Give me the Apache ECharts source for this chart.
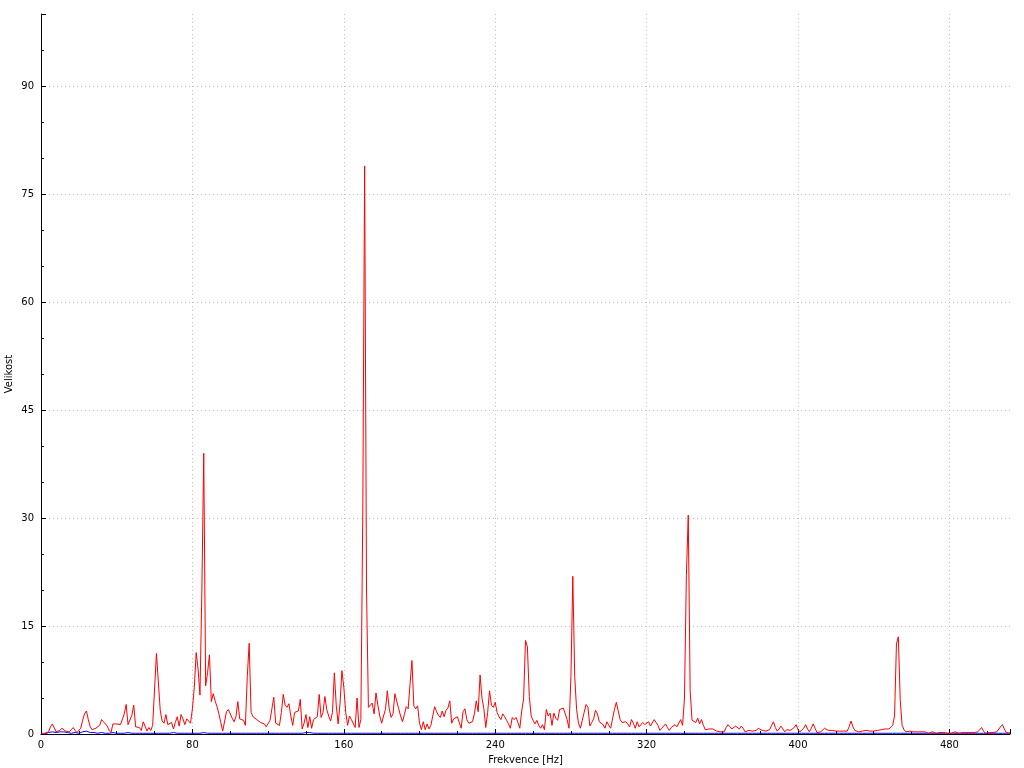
<!DOCTYPE html>
<html>
<head>
<meta charset="utf-8">
<script src="https://cdn.jsdelivr.net/npm/echarts@6/dist/echarts.min.js"></script>
<style>html,body{margin:0;padding:0;background:#fff}#c{width:1024px;height:768px}</style>
</head>
<body>
<div id="c"></div>
<script>
// Frequency step (Hz) of samples; frequencies are index * step
const freqStep = 1;
const xTicks = [0, 80, 160, 240, 320, 400, 480];
const yTicks = [0, 15, 30, 45, 60, 75, 90];
const xTitle = "Frekvence [Hz]";
const yTitle = "Velikost";

// Red spectrum magnitudes, 0..512 Hz
const redValues = [
0.1,0.1,0.1,0.1,0.3,1.0,1.4,1.3,0.3,0.3,0.5,0.8,0.7,0.4,0.5,0.3,0.6,0.9,0.5,0.2,
0.4,0.8,1.9,2.8,3.2,2.0,1.0,0.6,0.5,0.8,1.0,1.2,2.0,1.7,1.4,1.1,0.5,0.2,1.4,1.5,
1.4,1.5,1.3,1.2,2.8,4.1,1.3,1.2,2.6,4.0,1.0,0.9,0.9,0.5,1.7,1.1,0.4,0.9,0.5,1.2,
1.0,11.2,11.4,3.3,1.8,1.5,2.7,1.3,1.2,1.6,0.7,1.6,2.4,1.1,2.7,2.1,1.3,2.1,1.8,1.5,
3.5,6.5,11.3,9.0,5.4,20.0,39.0,6.7,8.5,11.0,4.5,5.6,4.6,3.8,2.8,1.6,0.4,0.4,3.1,3.4,
3.3,2.2,1.7,2.4,4.5,2.1,2.2,1.9,1.2,8.0,12.6,3.0,2.4,2.3,2.0,1.8,1.6,1.5,1.4,1.0,
0.9,1.9,3.5,5.1,1.5,1.4,1.2,3.0,5.5,4.0,3.7,4.2,2.5,1.2,3.0,2.8,3.2,4.8,0.7,1.5,
2.7,0.9,2.4,0.8,2.0,2.2,2.4,5.5,2.3,3.0,5.2,3.4,2.5,1.8,3.0,8.5,4.0,1.4,4.2,8.8,
6.5,3.0,1.2,2.5,2.0,2.1,0.9,5.0,0.9,2.0,30.0,78.9,20.0,3.7,3.5,4.3,2.8,5.7,4.0,2.5,
1.5,2.5,3.4,6.0,3.5,2.3,2.8,5.6,4.5,3.5,2.5,1.7,2.7,3.8,3.5,7.0,10.2,3.9,3.5,3.9,
1.5,0.6,1.7,0.6,1.4,0.7,1.2,1.1,3.8,3.1,2.6,2.3,3.2,2.4,3.3,3.6,4.6,1.5,2.1,2.0,
2.4,1.6,0.8,3.1,3.5,2.0,1.5,1.6,1.7,2.8,4.6,3.1,8.2,5.0,3.5,0.9,3.0,6.0,4.0,3.7,
4.4,3.0,2.4,2.0,2.8,2.4,1.9,1.4,0.8,2.3,2.0,2.3,1.6,0.8,3.2,4.9,13.0,12.1,5.2,2.5,
1.9,1.4,1.9,1.2,0.8,1.3,0.6,3.4,2.5,2.9,1.2,2.9,2.2,1.9,3.4,3.2,3.6,3.7,2.0,0.8,
8.0,21.9,8.0,3.4,1.5,0.8,1.9,3.0,4.1,3.7,1.1,1.6,2.1,3.3,2.8,1.7,1.5,1.3,0.8,1.7,
1.2,0.8,1.0,3.4,4.4,3.2,2.0,1.6,1.8,1.7,1.4,1.0,2.0,1.5,0.8,1.7,1.0,0.8,1.6,1.3,
1.1,1.7,1.1,1.3,2.0,1.6,1.2,0.5,0.8,1.1,1.4,0.9,0.5,0.9,1.1,1.3,1.0,1.2,2.0,1.2,
5.0,22.0,30.4,6.0,1.9,2.0,1.6,2.2,1.4,2.0,1.2,0.6,0.8,0.7,0.6,0.7,0.7,0.4,0.3,0.3,
0.2,0.3,0.9,1.3,1.0,0.7,0.9,1.1,1.1,0.7,1.1,0.8,0.3,0.4,0.5,0.5,0.4,0.3,0.5,0.8,
0.8,0.5,0.3,0.4,0.5,0.6,1.2,1.7,0.9,0.4,0.7,1.1,0.7,0.3,0.6,0.8,0.5,0.3,0.9,1.3,
0.6,0.3,0.3,0.8,1.3,0.7,0.3,0.8,1.4,0.8,0.2,0.2,0.3,0.5,0.8,0.8,0.5,0.4,0.5,0.4,
0.4,0.3,0.4,0.3,0.4,0.5,0.4,1.0,1.8,1.0,0.5,0.4,0.3,0.5,0.4,0.4,0.5,0.6,0.4,0.3,
0.4,0.5,0.5,0.6,0.6,0.6,0.7,0.6,0.7,0.8,1.2,2.5,12.5,13.5,4.7,1.2,0.6,0.3,0.3,0.4,
0.5,0.3,0.2,0.3,0.2,0.3,0.4,0.3,0.2,0.1,0.2,0.3,0.2,0.1,0.2,0.2,0.1,0.2,0.1,0.1,
0.2,0.1,0.2,0.3,0.2,0.1,0.2,0.2,0.1,0.2,0.3,0.2,0.1,0.2,0.2,0.3,0.6,0.9,0.4,0.1,
0.1,0.2,0.1,0.2,0.2,0.3,0.5,1.0,1.3,0.7,0.2,0.1,0.1
];

// Blue series magnitudes, 0..512 Hz (near zero)
const blueValues = [
0,0,0,0,0.2,0.3,0.3,0.2,0.2,0.3,0.3,0.4,0.3,0.2,0.2,0.2,0.1,0.1,0.2,0.1,
0.1,0.2,0.3,0.5,0.4,0.3,0.2,0.2,0.2,0.1,0.1,0.2,0.2,0.1,0.1,0.1,0.1,0.1,0.2,0.1,
0.1,0.1,0.1,0.1,0.1,0.2,0.2,0.1,0.1,0.1,0.1,0.1,0.1,0.1,0.1,0.1,0.1,0.1,0.1,0.1,
0.1,0.1,0.1,0.1,0.1,0.1,0.1,0.1,0.1,0.2,0.2,0.1,0.1,0.1,0.1,0.1,0.1,0.1,0.1,0.1,
0.1,0.1,0.1,0.1,0.1,0.2,0.2,0.2,0.1,0.1,0.1,0.1,0.1,0.1,0.1,0.1,0.1,0.1,0.1,0.1,
0.1,0.1,0.1,0.1,0.1,0.1,0.1,0.1,0.1,0.1,0.1,0.1,0.1,0.1,0.1,0.1,0.1,0.1,0.1,0.1,
0.1,0.1,0.1,0.1,0.1,0.1,0.1,0.1,0.1,0.1,0.1,0.1,0.1,0.1,0.1,0.1,0.1,0.1,0.1,0.2,
0.2,0.2,0.2,0.2,0.1,0.1,0.1,0.1,0.1,0.1,0.1,0.1,0.1,0.1,0.1,0.1,0.1,0.1,0.1,0.1,
0.1,0.1,0.1,0.1,0.1,0.1,0.1,0.1,0.1,0.1,0.1,0.1,0.1,0.1,0.1,0.1,0.1,0.1,0.1,0.1,
0.1,0.1,0.1,0.1,0.1,0.1,0.1,0.1,0.1,0.1,0.1,0.1,0.1,0.1,0.1,0.1,0.1,0.1,0.1,0.1,
0.1,0.1,0.1,0.1,0.1,0.1,0.1,0.1,0.1,0.1,0.1,0.1,0.1,0.1,0.1,0.1,0.1,0.1,0.1,0.1,
0.1,0.1,0.1,0.1,0.1,0.1,0.1,0.1,0.1,0.1,0.1,0.1,0.1,0.1,0.1,0.1,0.1,0.1,0.1,0.1,
0.1,0.1,0.1,0.1,0.1,0.1,0.1,0.1,0.1,0.1,0.1,0.1,0.1,0.1,0.1,0.1,0.1,0.1,0.1,0.1,
0.1,0.1,0.1,0.1,0.1,0.1,0.1,0.1,0.1,0.1,0.1,0.1,0.1,0.1,0.1,0.1,0.1,0.1,0.1,0.1,
0.1,0.1,0.1,0.1,0.1,0.1,0.1,0.1,0.1,0.1,0.1,0.1,0.1,0.1,0.1,0.1,0.1,0.1,0.1,0.1,
0.1,0.1,0.1,0.1,0.1,0.1,0.1,0.1,0.1,0.1,0.1,0.1,0.1,0.1,0.1,0.1,0.1,0.1,0.1,0.1,
0.1,0.1,0.1,0.1,0.1,0.1,0.1,0.1,0.1,0.1,0.1,0.1,0.1,0.1,0.1,0.1,0.1,0.1,0.1,0.1,
0.1,0.1,0.1,0.1,0.1,0.1,0.1,0.1,0.1,0.1,0.1,0.1,0.1,0.1,0.1,0.1,0.1,0.1,0.1,0.1,
0.1,0.1,0.1,0.1,0.1,0.1,0.1,0.1,0.1,0.1,0.1,0.1,0.1,0.1,0.1,0.1,0.1,0.1,0.1,0.1,
0.1,0.1,0.1,0.1,0.1,0.1,0.1,0.1,0.1,0.1,0.1,0.1,0.1,0.1,0.1,0.1,0.1,0.1,0.1,0.1,
0.1,0.1,0.1,0.1,0.1,0.1,0.1,0.1,0.1,0.1,0.1,0.1,0.1,0.1,0.1,0.1,0.1,0.1,0.1,0.1,
0.1,0.1,0.1,0.1,0.1,0.1,0.1,0.1,0.1,0.1,0.1,0.1,0.1,0.1,0.1,0.1,0.1,0.1,0.1,0.1,
0.1,0.1,0.1,0.1,0.1,0.1,0.1,0.1,0.1,0.1,0.1,0.1,0.1,0.1,0.1,0.1,0.1,0.1,0.1,0.1,
0.1,0.1,0.1,0.1,0.1,0.1,0.1,0.1,0.1,0.1,0.1,0.1,0.1,0.1,0.1,0.1,0.1,0.1,0.1,0.1,
0.1,0.1,0.1,0.1,0.1,0.1,0.1,0.1,0.1,0.1,0.1,0.1,0.1,0.1,0.1,0.1,0.1,0.1,0.1,0.1,
0.1,0.1,0.1,0.1,0.1,0.1,0.1,0.1,0.1,0.1,0.1,0.1,0.1
];

const toPairs = arr => arr.map((v, i) => [i * freqStep, v]);
const font = 'DejaVu Sans';

const chart = echarts.init(document.getElementById('c'), null, {renderer: 'canvas'});
chart.setOption({
  animation: false,
  backgroundColor: '#ffffff',
  grid: {left: 41, right: 14, top: 14, bottom: 34, containLabel: false, outerBoundsMode: 'none'},
  xAxis: {
    type: 'value', min: xTicks[0], max: 512, interval: xTicks[1] - xTicks[0],
    name: xTitle, nameLocation: 'middle', nameGap: 21, nameMoveOverlap: false,
    nameTextStyle: {color: '#000', fontFamily: font, fontSize: 10},
    axisLine: {show: true, onZero: false, lineStyle: {color: '#000', width: 1}},
    axisTick: {show: true, inside: true, length: 5, lineStyle: {color: '#000'}},
    minorTick: {show: true, splitNumber: 4, length: 3, lineStyle: {color: '#000'}},
    axisLabel: {color: '#000', fontFamily: font, fontSize: 10, margin: 6, showMaxLabel: false},
    splitLine: {show: true, showMinLine: false, showMaxLine: false, lineStyle: {color: '#c0c0c0', type: [1, 3], width: 1}}
  },
  yAxis: {
    type: 'value', min: yTicks[0], max: 100, interval: yTicks[1] - yTicks[0],
    name: yTitle, nameLocation: 'middle', nameGap: 27, nameRotate: 90, nameMoveOverlap: false,
    nameTextStyle: {color: '#000', fontFamily: font, fontSize: 10},
    axisLine: {show: true, onZero: false, lineStyle: {color: '#000', width: 1}},
    axisTick: {show: true, inside: true, length: 5, lineStyle: {color: '#000'}},
    minorTick: {show: true, splitNumber: 3, length: 3, lineStyle: {color: '#000'}},
    axisLabel: {color: '#000', fontFamily: font, fontSize: 10, margin: 7, showMaxLabel: false},
    splitLine: {show: true, showMinLine: false, showMaxLine: false, lineStyle: {color: '#c0c0c0', type: [1, 3], width: 1}}
  },
  series: [
    {type: 'line', data: toPairs(blueValues), showSymbol: false, symbol: 'none',
     lineStyle: {color: '#0000ff', width: 1}, z: 2},
    {type: 'line', data: toPairs(redValues), showSymbol: false, symbol: 'none',
     lineStyle: {color: '#ff0000', width: 1}, z: 3}
  ]
});
</script>
</body>
</html>
